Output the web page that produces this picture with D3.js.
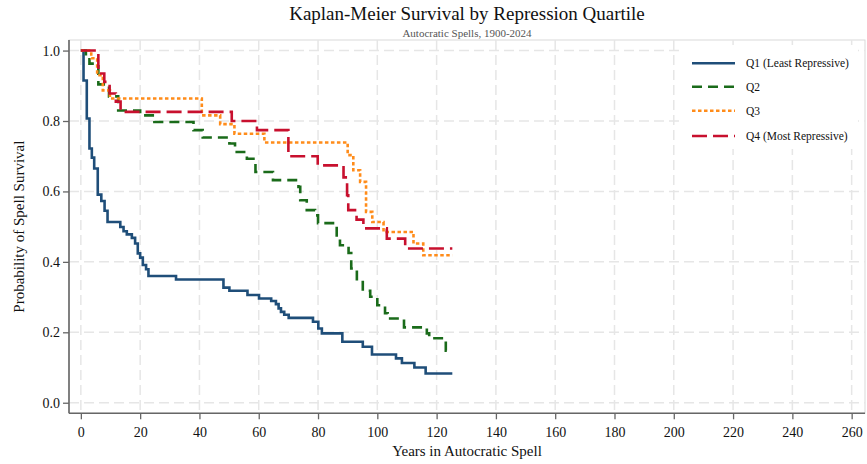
<!DOCTYPE html>
<html>
<head>
<meta charset="utf-8">
<script src="https://cdn.jsdelivr.net/npm/d3@7"></script>
<style>
body{margin:0;background:#fff;}
svg{display:block;font-family:"Liberation Serif","Times New Roman",serif;}
</style>
</head>
<body>
<svg id="chart" width="867" height="464"></svg>
<script>
const seriesNames = ["Q1 (Least Repressive)", "Q2", "Q3", "Q4 (Most Repressive)"];
const xTicks = [0,20,40,60,80,100,120,140,160,180,200,220,240,260];
const yTicks = [0.0,0.2,0.4,0.6,0.8,1.0];

const q1Times = [0,0.9,2.0,2.9,3.7,4.5,5.7,6.9,8.0,9.0,13.3,14.4,15.5,17.2,18.3,19.2,20.0,20.9,22.0,22.8,32.1,48.1,50.1,56.2,60.1,64.2,65.8,66.7,67.5,68.6,70.1,78.3,80.1,81.3,88.2,95.1,98.2,106.3,108.3,112.5,116.3,125.3];
const q1Surv  = [1.0,0.915,0.807,0.722,0.696,0.665,0.591,0.573,0.545,0.513,0.499,0.487,0.478,0.468,0.452,0.424,0.412,0.391,0.379,0.360,0.350,0.327,0.318,0.306,0.296,0.289,0.280,0.268,0.258,0.250,0.241,0.230,0.211,0.197,0.173,0.159,0.137,0.126,0.113,0.100,0.083,0.083];

const q2Times = [0,1.7,2.9,5.9,9.5,12.6,20.0,24.8,38.0,41.1,50.1,52.0,56.0,58.9,64.8,73.4,74.0,76.2,79.0,80.0,86.3,87.4,90.3,91.2,93.1,95.1,97.6,100.0,102.6,103.5,109.0,116.7,117.5,123.1,125.3];
const q2Surv  = [1.0,0.980,0.963,0.904,0.870,0.830,0.816,0.797,0.774,0.753,0.736,0.712,0.693,0.655,0.632,0.613,0.575,0.547,0.532,0.510,0.466,0.447,0.425,0.381,0.343,0.318,0.301,0.277,0.254,0.239,0.214,0.197,0.183,0.148,0.148];

const q3Times = [0,3.5,5.5,7.4,9.8,40.8,47.0,51.8,61.9,90.0,91.9,94.2,96.2,98.3,102.1,112.2,115.5,125.3];
const q3Surv  = [1.0,0.978,0.930,0.887,0.864,0.816,0.791,0.764,0.739,0.703,0.660,0.627,0.542,0.513,0.485,0.452,0.419,0.419];

const q4Times = [0,5.9,7.9,9.7,11.8,13.4,50.9,59.4,70.0,79.9,88.6,89.8,90.2,93.0,95.3,103.2,109.4,125.3];
const q4Surv  = [1.0,0.935,0.911,0.878,0.855,0.826,0.800,0.774,0.700,0.674,0.640,0.589,0.547,0.520,0.495,0.466,0.438,0.438];

const colors = ["#1f4e79","#1a6b1a","#ff8c1a","#c8102e"];
const dashes = [null,"10,6","3.5,2.5","15,6"];

const svg = d3.select("#chart");
const L = 69, R = 865, T = 40, B = 413.3;
const x = d3.scaleLinear().domain([-4, 264.5]).range([L, R]);
const y = d3.scaleLinear().domain([-0.03, 1.03]).range([B, T]);

// frame (light)
svg.append("rect").attr("x",L).attr("y",T).attr("width",R-L).attr("height",B-T)
  .attr("fill","none").attr("stroke","#d9d9d9").attr("stroke-width",1);

// grid
const grid = svg.append("g");
grid.selectAll("line.gx").data(xTicks).join("line")
  .attr("x1",d=>x(d)).attr("x2",d=>x(d)).attr("y1",T).attr("y2",B)
  .attr("stroke","#e6e6e6").attr("stroke-width",1.5).attr("stroke-dasharray","10,5");
grid.selectAll("line.gy").data(yTicks).join("line")
  .attr("y1",d=>y(d)).attr("y2",d=>y(d)).attr("x1",L).attr("x2",R)
  .attr("stroke","#e6e6e6").attr("stroke-width",1.5).attr("stroke-dasharray","10,5");

// lines
const data = [[q1Times,q1Surv],[q2Times,q2Surv],[q3Times,q3Surv],[q4Times,q4Surv]];
const line = d3.line().x(d=>x(d[0])).y(d=>y(d[1])).curve(d3.curveStepAfter);
data.forEach((s,i)=>{
  const pts = s[0].map((t,j)=>[t,s[1][j]]);
  svg.append("path").datum(pts).attr("d",line)
    .attr("fill","none").attr("stroke",colors[i]).attr("stroke-width",2.6)
    .attr("stroke-dasharray",dashes[i]);
});

// axes
const xAxis = svg.append("g").attr("transform",`translate(0,${B})`)
  .call(d3.axisBottom(x).tickValues(xTicks).tickSize(6).tickSizeOuter(0).tickFormat(d3.format("d")));
const yAxis = svg.append("g").attr("transform",`translate(${L},0)`)
  .call(d3.axisLeft(y).tickValues(yTicks).tickSize(6).tickSizeOuter(0).tickFormat(d3.format(".1f")));
[xAxis,yAxis].forEach(a=>{
  a.select(".domain").attr("stroke","#666").attr("stroke-width",1.6);
  a.selectAll(".tick line").attr("stroke","#666").attr("stroke-width",1.3);
  a.selectAll("text").attr("font-family","Liberation Serif, serif").attr("font-size",14).attr("fill","#111");
});
xAxis.selectAll("text").attr("dy","1.05em");
// extend x domain line to full width
xAxis.select(".domain").attr("d",`M${L},0H${R}`);
yAxis.select(".domain").attr("d",`M0,${B}V${T}`);

// titles
svg.append("text").attr("x",467).attr("y",20).attr("text-anchor","middle")
  .attr("font-size",19).attr("fill","#111").text("Kaplan-Meier Survival by Repression Quartile");
svg.append("text").attr("x",467).attr("y",37).attr("text-anchor","middle")
  .attr("font-size",11).attr("fill","#555").text("Autocratic Spells, 1900-2024");
svg.append("text").attr("x",467).attr("y",456).attr("text-anchor","middle")
  .attr("font-size",15).attr("fill","#111").text("Years in Autocratic Spell");
svg.append("text").attr("transform",`translate(24,${(T+B)/2}) rotate(-90)`).attr("text-anchor","middle")
  .attr("font-size",15).attr("fill","#111").text("Probability of Spell Survival");

// legend
const lg = svg.append("g");
lg.append("rect").attr("x",680).attr("y",45).attr("width",178).attr("height",104).attr("fill","#fff");
const rowsY = [63.3,86.7,110.7,136];
seriesNames.forEach((n,i)=>{
  lg.append("line").attr("x1",692).attr("x2",735).attr("y1",rowsY[i]).attr("y2",rowsY[i])
    .attr("stroke",colors[i]).attr("stroke-width",2.6).attr("stroke-dasharray",dashes[i]);
  lg.append("text").attr("x",746).attr("y",rowsY[i]+4).attr("font-size",11.5).attr("fill","#111").text(n);
});
</script>
</body>
</html>
